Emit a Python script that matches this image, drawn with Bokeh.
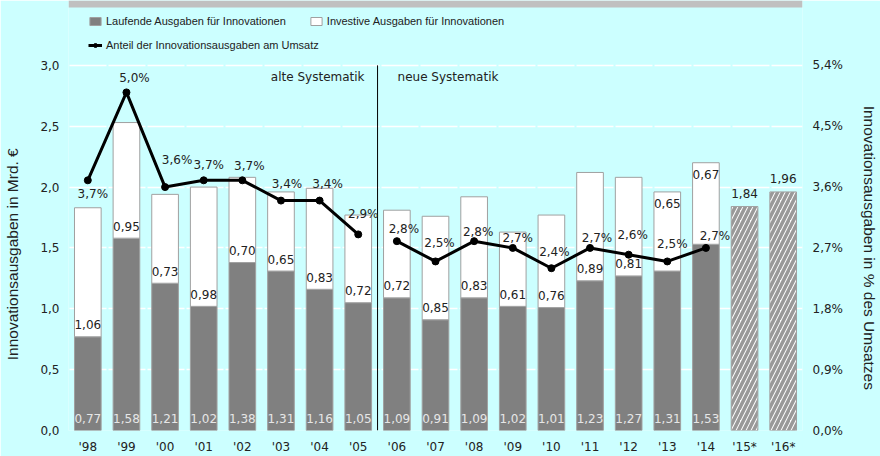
from bokeh.plotting import figure
from bokeh.models import (ColumnDataSource, FactorRange, Range1d, LinearAxis, FixedTicker,
                          CustomJSTickFormatter, Legend, LegendItem, Label, BoxAnnotation)
from bokeh.core.properties import value
from bokeh.embed import file_html
from bokeh.resources import INLINE

# ---------------- data ----------------
years = ["'98", "'99", "'00", "'01", "'02", "'03", "'04", "'05",
         "'06", "'07", "'08", "'09", "'10", "'11", "'12", "'13", "'14"]
forecast_years = ["'15*", "'16*"]
laufende = [0.77, 1.58, 1.21, 1.02, 1.38, 1.31, 1.16, 1.05,
            1.09, 0.91, 1.09, 1.02, 1.01, 1.23, 1.27, 1.31, 1.53]
investive = [1.06, 0.95, 0.73, 0.98, 0.70, 0.65, 0.83, 0.72,
             0.72, 0.85, 0.83, 0.61, 0.76, 0.89, 0.81, 0.65, 0.67]
forecast_total = [1.84, 1.96]
years_alt = years[:8]
years_neu = years[8:]
anteil_alt = [3.7, 5.0, 3.6, 3.7, 3.7, 3.4, 3.4, 2.9]
anteil_neu = [2.8, 2.5, 2.8, 2.7, 2.4, 2.7, 2.6, 2.5, 2.7]
left_ticks = [0.0, 0.5, 1.0, 1.5, 2.0, 2.5, 3.0]
right_ticks = [0.0, 0.9, 1.8, 2.7, 3.6, 4.5, 5.4]
left_max = 3.0
right_max = 5.4

# ---------------- styling / layout ----------------
pct_dx = [5, 8, 12, 5, 7, 6, 8, 5, 7, 4, 4, 5, 3, 7, 4, 5, 9]
pct_dy = [14, -14, -27, -15, -14, -17, -17, -20, -12, -18, -9, -10, -16, -10, -20, -17, -12]
inv_label_at_top = ["'13", "'14"]

BG = "#ccffff"
GRAY = "#808080"
EDGE = "#a0a0a0"
TXT = "#222222"
FONT = "DejaVu Sans"
LFONT = "Liberation Sans"
NBSP = "\u00a0"

W, H = 880, 456
B_L, B_R, B_B = 68, 75, 25
FRAME_H = H - B_B          # frame reaches the top edge: legend lives inside it
PLOT_H = 366               # pixel height of the 0..3,0 value span
ext = FRAME_H / PLOT_H
BAND = 7                   # grey band at the top


def de(v, nd=2):
    return f"{v:.{nd}f}".replace(".", ",")


cats = years + forecast_years
totals = [a + b for a, b in zip(laufende, investive)]

p = figure(x_range=FactorRange(*cats), y_range=Range1d(0, left_max * ext),
           width=W, height=H, output_backend="svg", toolbar_location=None,
           min_border_left=B_L, min_border_right=B_R,
           min_border_top=0, min_border_bottom=B_B)
p.extra_y_ranges = {"pct": Range1d(0, right_max * ext)}
p.background_fill_color = BG
p.border_fill_color = BG
p.outline_line_color = None

p.add_layout(BoxAnnotation(bottom=left_max * (FRAME_H - BAND) / PLOT_H,
                           fill_color="#c0c0c0", fill_alpha=1, line_color=None))

BW = 0.69
src = ColumnDataSource(dict(x=years, lauf=laufende, inv=investive, tot=totals))
r_gray = p.vbar(x="x", bottom=0, top="lauf", width=BW, source=src,
                fill_color=GRAY, line_color=EDGE, line_width=1)
r_white = p.vbar(x="x", bottom="lauf", top="tot", width=BW, source=src,
                 fill_color="white", line_color=EDGE, line_width=1)
p.vbar(x=forecast_years, bottom=0, top=forecast_total, width=BW,
       fill_color="white", line_color=EDGE, line_width=1,
       hatch_pattern="/", hatch_color="#999999", hatch_weight=3.5, hatch_scale=10)

# share line (two separate series: alte / neue Systematik)
r_l1 = p.line(x=years_alt, y=anteil_alt, y_range_name="pct", line_color="black", line_width=3)
r_p1 = p.scatter(x=years_alt, y=anteil_alt, y_range_name="pct", marker="circle", size=7,
                 fill_color="black", line_color="black")
p.line(x=years_neu, y=anteil_neu, y_range_name="pct", line_color="black", line_width=3)
p.scatter(x=years_neu, y=anteil_neu, y_range_name="pct", marker="circle", size=7,
          fill_color="black", line_color="black")

# divider between old and new methodology (boundary between '05 and '06)
n_alt = len(years_alt)
p.segment(x0=[n_alt], y0=[0], x1=[n_alt], y1=[left_max], line_color="black", line_width=1)
p.add_layout(Label(x=n_alt, y=left_max, x_offset=-13, y_offset=-12, text="alte Systematik",
                   text_align="right", text_baseline="middle", text_font=FONT,
                   text_font_size="12px", text_color=TXT))
p.add_layout(Label(x=n_alt, y=left_max, x_offset=20, y_offset=-12, text="neue Systematik",
                   text_align="left", text_baseline="middle", text_font=FONT,
                   text_font_size="12px", text_color=TXT))

# labels inside bars
p.text(x=years, y=[0] * len(years), text=[de(v) for v in laufende],
       text_align="center", text_baseline="middle", y_offset=-12,
       text_color="#e6e6e6", text_font=value(FONT), text_font_size="12px")
ix_low = [i for i, y in enumerate(years) if y not in inv_label_at_top]
ix_top = [i for i, y in enumerate(years) if y in inv_label_at_top]
p.text(x=[years[i] for i in ix_low], y=[laufende[i] for i in ix_low],
       text=[de(investive[i]) for i in ix_low],
       text_align="center", text_baseline="middle", y_offset=-12,
       text_color=TXT, text_font=value(FONT), text_font_size="12px")
p.text(x=[years[i] for i in ix_top], y=[totals[i] for i in ix_top],
       text=[de(investive[i]) for i in ix_top],
       text_align="center", text_baseline="middle", y_offset=12,
       text_color=TXT, text_font=value(FONT), text_font_size="12px")
p.text(x=forecast_years, y=forecast_total, text=[de(v) for v in forecast_total],
       text_align="center", text_baseline="middle", y_offset=-13,
       text_color=TXT, text_font=value(FONT), text_font_size="12px")

# percentage labels
pct_src = ColumnDataSource(dict(x=years, y=anteil_alt + anteil_neu,
                                t=[de(v, 1) + "%" for v in anteil_alt + anteil_neu],
                                dx=pct_dx, dy=pct_dy))
p.text(x="x", y="y", text="t", x_offset="dx", y_offset="dy", source=pct_src,
       y_range_name="pct", text_align="center", text_baseline="middle",
       text_color=TXT, text_font=value(FONT), text_font_size="12px")

# axes (titles padded with no-break spaces so they centre on the 0..3,0 span)
ax = p.yaxis[0]
ax.ticker = FixedTicker(ticks=left_ticks)
ax.formatter = CustomJSTickFormatter(code="return tick.toFixed(1).replace('.', ',');")
ax.axis_label = "Innovationsausgaben in Mrd. €" + NBSP * 18

rax = LinearAxis(y_range_name="pct", ticker=FixedTicker(ticks=right_ticks),
                 formatter=CustomJSTickFormatter(code="return tick.toFixed(1).replace('.', ',') + '%';"),
                 axis_label=NBSP * 15 + "Innovationsausgaben in % des Umsatzes")
p.add_layout(rax, "right")

for a in [ax, rax, p.xaxis[0]]:
    a.axis_line_color = None
    a.major_tick_line_color = None
    a.minor_tick_line_color = None
    a.major_tick_in = 0
    a.major_tick_out = 0
    a.major_label_text_font = FONT
    a.major_label_text_font_size = "12px"
    a.major_label_text_color = TXT
    a.axis_label_text_font = LFONT
    a.axis_label_text_font_size = "15.5px"
    a.axis_label_text_font_style = "normal"
    a.axis_label_text_color = TXT
ax.major_label_standoff = 9
ax.axis_label_standoff = 16
rax.major_label_standoff = 10
rax.axis_label_standoff = 15
p.xaxis.major_label_standoff = 9

p.xgrid.grid_line_color = None
p.ygrid.grid_line_color = "white"
p.ygrid.grid_line_width = 1.5
p.ygrid.grid_line_dash = "37 2"
p.ygrid.grid_line_dash_offset = -1

common = dict(label_text_font=LFONT, label_text_font_size="11px", label_text_color=TXT,
              glyph_width=14, glyph_height=10, label_standoff=4,
              padding=0, margin=0, background_fill_alpha=0, border_line_alpha=0)
legend_a = Legend(items=[
    LegendItem(label="Laufende Ausgaben für Innovationen", renderers=[r_gray]),
    LegendItem(label="Investive Ausgaben für Innovationen", renderers=[r_white]),
], orientation="horizontal", location=(20, FRAME_H - 28), spacing=23, **common)
legend_b = Legend(items=[
    LegendItem(label="Anteil der Innovationsausgaben am Umsatz", renderers=[r_l1, r_p1]),
], orientation="horizontal", location=(20, FRAME_H - 52), **common)
p.add_layout(legend_a)
p.add_layout(legend_b)

open("out.html", "w").write(file_html(p, INLINE))
